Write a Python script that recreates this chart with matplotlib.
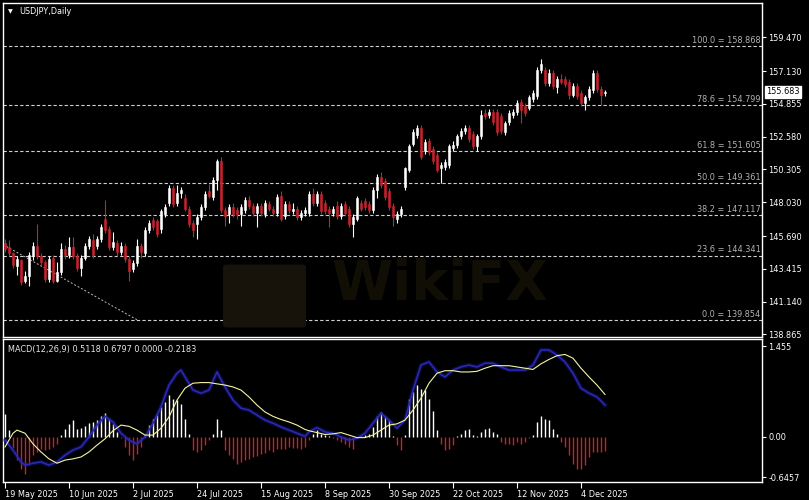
import numpy as np
import matplotlib
matplotlib.use("Agg")
import matplotlib.pyplot as plt
from matplotlib.patches import FancyBboxPatch

plt.rcParams['font.family'] = ['DejaVu Sans']


# ── 1. Data ───────────────────────────────────────────────────────────────────

opens = [
    145.2, 144.9, 144.5, 143.6, 144.0, 142.6, 142.9, 144.3, 145.0, 144.3,
    143.9, 142.7, 144.2, 142.6, 143.2, 144.8, 144.4, 144.9, 144.3, 143.5,
    144.2, 145.0, 145.4, 145.0, 145.5, 146.9, 146.2, 144.9, 145.2, 144.6,
    145.0, 144.1, 143.4, 143.8, 145.0, 144.5, 146.1, 146.8, 146.7, 146.2,
    147.2, 148.0, 149.0, 148.0, 148.7, 148.3, 147.6, 146.6, 146.5, 147.0,
    147.7, 148.8, 148.4, 149.6, 150.9, 147.5, 147.2, 147.7, 147.5, 147.2,
    147.5, 148.2, 147.8, 147.3, 147.8, 147.2, 147.9, 147.6, 147.3, 148.5,
    147.1, 147.9, 147.4, 147.6, 147.0, 147.3, 147.3, 148.6, 148.0, 148.6,
    148.0, 147.6, 147.3, 147.8, 147.1, 147.9, 147.6, 146.5, 146.9, 148.0,
    148.1, 147.9, 147.5, 148.9, 149.8, 149.5, 148.8, 147.8, 146.9, 147.2,
    149.1, 150.3, 152.1, 152.7, 153.2, 151.6, 152.3, 151.7, 151.3, 150.4,
    150.5, 150.6, 151.8, 152.0, 152.6, 153.0, 153.2, 152.8, 151.9, 152.6,
    154.2, 154.1, 154.3, 154.3, 154.0, 152.9, 153.6, 154.1, 154.3, 155.0,
    154.7, 154.6, 155.2, 155.4, 157.2, 157.2, 156.3, 157.0, 156.0, 156.6,
    156.6, 156.4, 155.5, 156.1, 155.6, 154.9, 155.3, 155.8, 157.0, 155.9,
    155.6]
highs = [
    145.5, 145.4, 144.6, 144.3, 144.1, 143.3, 144.6, 145.3, 146.5, 144.5,
    144.0, 144.3, 144.4, 143.9, 145.2, 145.1, 145.6, 145.6, 144.5, 144.4,
    145.2, 145.7, 145.8, 145.7, 146.5, 148.2, 146.4, 146.0, 145.4, 145.3,
    145.2, 144.3, 144.0, 145.5, 145.2, 146.3, 146.8, 147.0, 146.9, 147.6,
    147.9, 149.2, 149.2, 149.2, 149.1, 148.6, 147.8, 146.8, 147.2, 147.9,
    148.8, 149.3, 149.8, 151.0, 151.2, 147.7, 147.9, 148.0, 147.7, 147.9,
    148.4, 148.5, 148.0, 148.0, 148.0, 148.2, 148.1, 147.8, 148.6, 148.8,
    148.1, 148.1, 148.0, 147.8, 147.5, 147.7, 148.8, 149.0, 148.8, 148.8,
    148.2, 147.8, 147.8, 148.1, 148.0, 148.1, 147.8, 147.2, 148.5, 148.2,
    148.3, 148.1, 149.1, 150.0, 150.1, 149.7, 149.0, 148.0, 147.4, 147.8,
    150.5, 152.1, 153.1, 153.4, 153.4, 152.4, 152.5, 151.9, 151.5, 150.8,
    151.0, 152.1, 152.3, 152.8, 153.2, 153.4, 153.4, 153.0, 152.8, 154.4,
    154.5, 154.5, 154.5, 154.5, 154.2, 153.7, 154.4, 154.5, 155.1, 155.2,
    154.9, 155.5, 155.8, 157.4, 158.0, 157.4, 157.3, 157.2, 156.8, 156.9,
    156.8, 156.6, 156.3, 156.3, 155.8, 155.5, 156.1, 157.2, 157.2, 156.1,
    155.8]
lows = [
    144.6, 144.3, 143.5, 143.0, 142.3, 142.4, 142.2, 144.0, 144.1, 143.7,
    142.5, 142.5, 142.4, 142.5, 143.0, 144.1, 144.2, 144.1, 143.3, 142.9,
    144.0, 144.8, 144.2, 144.8, 145.3, 145.9, 144.7, 144.7, 144.3, 144.4,
    143.9, 142.6, 143.2, 143.6, 144.2, 144.3, 145.9, 146.1, 145.6, 145.9,
    147.0, 147.8, 147.7, 147.8, 148.3, 147.4, 146.3, 145.6, 145.5, 146.8,
    147.5, 148.3, 148.2, 148.9, 147.3, 146.4, 146.6, 147.0, 146.9, 146.4,
    147.3, 147.6, 147.1, 146.3, 147.1, 147.0, 147.4, 147.1, 147.1, 146.7,
    146.9, 147.3, 147.2, 146.8, 146.8, 147.1, 147.1, 147.8, 147.8, 147.2,
    147.2, 146.3, 147.1, 146.9, 146.9, 147.1, 146.3, 145.6, 146.7, 147.4,
    147.5, 147.3, 147.3, 148.3, 149.0, 148.2, 147.5, 146.4, 146.6, 147.0,
    148.9, 150.1, 151.9, 152.5, 151.0, 151.4, 151.3, 150.7, 150.1, 149.4,
    150.3, 150.4, 151.6, 151.8, 152.4, 152.8, 152.2, 151.7, 151.6, 152.4,
    153.8, 153.9, 153.4, 152.7, 152.8, 152.7, 153.4, 153.9, 154.1, 153.5,
    154.0, 154.4, 155.0, 155.2, 157.0, 156.1, 156.1, 155.9, 155.6, 156.2,
    156.0, 155.2, 155.3, 155.2, 154.7, 154.4, 155.1, 155.6, 155.7, 154.8,
    155.4]
closes = [
    144.8, 144.5, 143.7, 144.1, 142.5, 142.9, 144.4, 145.0, 144.3, 143.9,
    142.7, 144.1, 142.6, 143.2, 144.8, 144.4, 144.9, 144.3, 143.5, 144.2,
    145.0, 145.5, 144.4, 145.5, 146.3, 146.1, 144.9, 145.3, 144.6, 145.0,
    144.1, 143.3, 143.8, 145.0, 144.6, 146.1, 146.6, 146.3, 145.8, 147.4,
    147.7, 149.0, 147.9, 148.7, 148.9, 147.6, 146.5, 146.1, 147.0, 147.7,
    148.6, 148.5, 149.6, 150.9, 147.5, 147.1, 147.7, 147.2, 147.2, 147.7,
    148.2, 147.8, 147.3, 147.8, 147.3, 148.0, 147.6, 147.3, 148.4, 146.9,
    147.9, 147.5, 147.6, 147.0, 147.3, 147.5, 148.6, 148.0, 148.6, 147.4,
    147.4, 147.3, 147.6, 147.1, 147.8, 147.3, 146.5, 147.0, 148.3, 147.6,
    147.7, 147.5, 148.9, 149.8, 149.2, 148.4, 147.7, 147.0, 147.2, 147.6,
    150.4, 151.9, 152.9, 153.2, 151.2, 152.2, 151.5, 150.9, 150.3, 150.6,
    150.8, 151.9, 152.0, 152.6, 153.0, 153.2, 152.4, 151.9, 152.6, 154.1,
    154.0, 154.3, 153.6, 152.9, 153.0, 153.5, 154.2, 154.3, 154.9, 154.4,
    154.2, 155.3, 155.6, 157.2, 157.6, 156.3, 157.0, 156.1, 156.6, 156.4,
    156.2, 155.5, 156.1, 155.4, 154.9, 155.3, 155.9, 157.0, 155.9, 155.5,
    155.683]

hist = [
    0.36, 0.11, -0.18, -0.37, -0.51, -0.59, -0.45, -0.29, -0.24, -0.19,
    -0.21, -0.19, -0.16, -0.11, 0.03, 0.12, 0.21, 0.27, 0.13, 0.15,
    0.17, 0.22, 0.24, 0.27, 0.33, 0.38, 0.28, 0.20, 0.08, -0.02,
    -0.16, -0.29, -0.37, -0.27, -0.16, 0.05, 0.19, 0.29, 0.35, 0.48,
    0.56, 0.67, 0.61, 0.59, 0.53, 0.29, 0.05, -0.21, -0.24, -0.21,
    -0.13, -0.05, 0.05, 0.28, 0.11, -0.21, -0.29, -0.35, -0.43, -0.40,
    -0.37, -0.35, -0.32, -0.31, -0.27, -0.26, -0.21, -0.24, -0.19, -0.20,
    -0.19, -0.16, -0.17, -0.17, -0.19, -0.16, -0.05, 0.05, 0.11, 0.05,
    0.03, 0.01, -0.02, -0.05, -0.08, -0.11, -0.16, -0.19, -0.01, 0.01,
    0.03, 0.05, 0.16, 0.33, 0.40, 0.33, 0.27, 0.02, -0.13, -0.21,
    0.03, 0.61, 0.72, 0.83, 0.77, 0.75, 0.61, 0.41, 0.11, -0.11,
    -0.21, -0.19, -0.13, 0.02, 0.04, 0.11, 0.12, 0.03, 0.01, 0.08,
    0.12, 0.15, 0.08, 0.05, -0.08, -0.11, -0.12, -0.13, -0.08, -0.11,
    -0.08, -0.01, 0.03, 0.24, 0.33, 0.29, 0.27, 0.13, 0.05, -0.08,
    -0.16, -0.29, -0.43, -0.51, -0.51, -0.45, -0.32, -0.24, -0.24, -0.24,
    -0.2183]

# MACD main line (blue) and signal (yellow), sampled at bar numbers
macd_bars = [0, 2, 4, 5, 7, 9, 11, 13, 15, 17, 19, 21, 23, 25, 27, 29, 31, 33,
             35, 37, 39, 41, 43, 44, 45, 47, 49, 51, 53, 55, 57, 59, 61, 63, 65,
             67, 69, 71, 73, 75, 76, 78, 80, 82, 84, 86, 88, 90, 92, 94, 96, 98,
             100, 102, 104, 106, 108, 110, 112, 114, 116, 118, 120, 122, 124,
             126, 128, 130, 132, 134, 136, 138, 140, 142, 144, 146, 148, 150]
macd_vals = [-0.05, -0.21, -0.40, -0.45, -0.42, -0.40, -0.45, -0.40, -0.29,
             -0.21, -0.16, 0.00, 0.19, 0.33, 0.24, 0.06, -0.05, -0.11, 0.00,
             0.22, 0.48, 0.83, 1.02, 1.07, 0.96, 0.75, 0.70, 0.75, 1.04, 0.80,
             0.59, 0.46, 0.43, 0.35, 0.27, 0.22, 0.16, 0.11, 0.06, 0.01, 0.08,
             0.15, 0.08, 0.06, 0.00, -0.05, -0.02, 0.06, 0.22, 0.38, 0.27, 0.14,
             0.27, 0.75, 1.15, 1.20, 1.04, 0.96, 1.07, 1.12, 1.15, 1.12, 1.18,
             1.18, 1.12, 1.07, 1.07, 1.07, 1.15, 1.39, 1.39, 1.31, 1.20, 1.02,
             0.78, 0.70, 0.64, 0.5118]
signal_bars = [0, 2, 3, 5, 7, 9, 11, 13, 15, 17, 19, 21, 23, 25, 27, 29, 31, 33,
               35, 37, 39, 41, 43, 45, 47, 49, 51, 53, 55, 57, 59, 61, 63, 65,
               67, 69, 71, 73, 75, 76, 78, 80, 82, 84, 86, 88, 90, 92, 94, 96,
               98, 100, 102, 104, 106, 108, 110, 112, 114, 116, 118, 120, 122,
               124, 126, 128, 130, 132, 134, 136, 138, 140, 142, 144, 146, 148,
               150]
signal_vals = [-0.16, 0.06, 0.11, 0.06, -0.11, -0.24, -0.35, -0.42, -0.37,
               -0.35, -0.32, -0.24, -0.13, -0.03, 0.10, 0.19, 0.17, 0.11, 0.03,
               0.03, 0.14, 0.32, 0.59, 0.78, 0.86, 0.87, 0.87, 0.85, 0.83, 0.80,
               0.75, 0.64, 0.51, 0.40, 0.33, 0.28, 0.24, 0.19, 0.12, 0.10, 0.07,
               0.04, 0.05, 0.07, 0.03, -0.01, -0.01, 0.03, 0.11, 0.19, 0.21,
               0.27, 0.43, 0.62, 0.86, 1.02, 1.06, 1.06, 1.04, 1.04, 1.05, 1.10,
               1.14, 1.14, 1.14, 1.12, 1.10, 1.08, 1.17, 1.24, 1.30, 1.32, 1.26,
               1.10, 0.96, 0.83, 0.6797]

fib_pct = [100.0, 78.6, 61.8, 50.0, 38.2, 23.6, 0.0]
fib_price = [158.868, 154.799, 151.605, 149.361, 147.117, 144.341, 139.854]
fib_line_bars = [-0.5, 33.2]
fib_line_prices = [145.1, 139.854]

price_ticks = [159.470, 157.130, 154.855, 152.580, 150.305, 148.030,
               145.690, 143.415, 141.140, 138.865]
macd_ticks = [1.455, 0.0, -0.6457]
macd_tick_labels = ['1.455', '0.00', '-0.6457']
date_bars = [0, 16, 32, 48, 64, 80, 96, 112, 128, 144]
date_labels = ['19 May 2025', '10 Jun 2025', '2 Jul 2025', '24 Jul 2025',
               '15 Aug 2025', '8 Sep 2025', '30 Sep 2025', '22 Oct 2025',
               '12 Nov 2025', '4 Dec 2025']
last_price = 155.683
macd_header = 'MACD(12,26,9) 0.5118 0.6797 0.0000 -0.2183'


# ── 2. Figure layout ──────────────────────────────────────────────────────────

W, H = 809, 500
BULL = '#ffffff'
BEAR = '#c8222c'
FS = 5.9

fig = plt.figure(figsize=(W / 100, H / 100), dpi=100, facecolor='black')
ax1 = fig.add_axes([3 / W, 1 - 337 / H, 759 / W, 334 / H], facecolor='black')
ax2 = fig.add_axes([3 / W, 1 - 482 / H, 759 / W, 143 / H], facecolor='black')

for ax in (ax1, ax2):
    for s in ax.spines.values():
        s.set_color('white')
        s.set_linewidth(1.0)
    ax.set_xlim(-0.5, 189.25)
    ax.yaxis.tick_right()
    ax.tick_params(axis='y', colors='white', length=3, width=0.8, pad=1.5,
                   labelsize=FS, labelcolor='white')

ax1.set_ylim(138.69, 161.85)
ax2.set_ylim(-0.72, 1.567)

# faint broker watermark, behind everything
fig.patches.append(FancyBboxPatch((227 / W, 1 - 325 / H), 75 / W, 58 / H,
                                  boxstyle='round,pad=0.005', fc='#17130a',
                                  ec='none', transform=fig.transFigure,
                                  zorder=0.5))
fig.text(440 / W, 1 - 285 / H, 'WikiFX', fontsize=40, fontweight='bold',
         color='#110e05', ha='center', va='center', zorder=0.6)
ax1.patch.set_alpha(0.0)
ax2.patch.set_alpha(0.0)


# ── 3. Price panel ────────────────────────────────────────────────────────────

x = np.arange(len(closes))
o = np.array(opens)
c = np.array(closes)
up = c >= o
cols = np.where(up, BULL, BEAR)

ax1.vlines(x, lows, highs, colors=cols, linewidth=0.8, zorder=3)
ax1.bar(x, c - o, bottom=o, width=0.7, color=cols, edgecolor=cols,
        linewidth=0.4, zorder=4)

for pct, p in zip(fib_pct, fib_price):
    ax1.axhline(p, color='#cfcfcf', linewidth=0.8, dashes=(3, 2), zorder=2)
    ax1.annotate(f'{pct:.1f} = {p:.3f}', xy=(0.998, p),
                 xycoords=('axes fraction', 'data'), xytext=(0, 0.8),
                 textcoords='offset points', ha='right', va='bottom',
                 fontsize=FS, color='#b4b4b4', zorder=5)
ax1.plot(fib_line_bars, fib_line_prices, color='#bdbdbd', linewidth=0.7,
         dashes=(2, 2), zorder=2)

ax1.set_xticks([])
ax1.set_yticks(price_ticks)
ax1.set_yticklabels([f'{t:.3f}' for t in price_ticks])

ax1.annotate(f'{last_price:.3f}', xy=(1.0, last_price),
             xycoords=('axes fraction', 'data'), xytext=(3, 0),
             textcoords='offset points', ha='left', va='center',
             fontsize=FS, color='black', annotation_clip=False,
             bbox=dict(boxstyle='square,pad=0.15', fc='white', ec='white'))

ax1.text(0.006, 0.975, '\u25bc', transform=ax1.transAxes, fontsize=4.5,
         color='white', ha='left', va='center')
ax1.text(0.021, 0.975, 'USDJPY,Daily', transform=ax1.transAxes, fontsize=FS,
         color='white', ha='left', va='center')


# ── 4. MACD panel ─────────────────────────────────────────────────────────────

hx = np.arange(len(hist))
hv = np.array(hist)
ax2.vlines(hx, 0, hv, colors=np.where(hv > 0, BULL, BEAR), linewidth=1.0,
           zorder=2)
ax2.plot(macd_bars, macd_vals, color='#1a1a90', linewidth=3.0, alpha=0.45,
         zorder=3)
ax2.plot(macd_bars, macd_vals, color='#2a2ab8', linewidth=1.1, zorder=3)
ax2.plot(signal_bars, signal_vals, color='#f4f4a8', linewidth=0.8, zorder=4)

ax2.set_yticks(macd_ticks)
ax2.set_yticklabels(macd_tick_labels)
ax2.set_xticks(date_bars)
ax2.set_xticklabels(date_labels)
for lbl in ax2.get_xticklabels():
    lbl.set_horizontalalignment('left')
ax2.tick_params(axis='x', colors='white', length=4, width=0.8, pad=1.5,
                labelsize=FS, labelcolor='white')
ax2.text(0.006, 0.93, macd_header, transform=ax2.transAxes, fontsize=FS,
         color='#e8e8e8', ha='left', va='center')

fig.savefig('out.png', dpi=100, facecolor='black')
